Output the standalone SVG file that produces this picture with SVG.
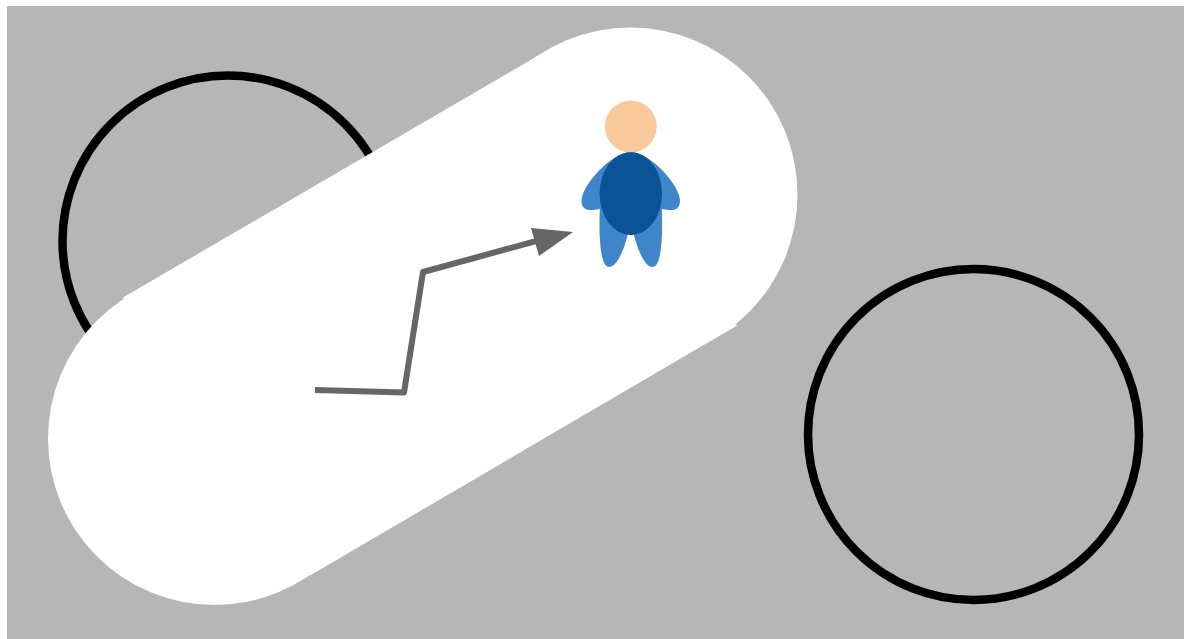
<svg xmlns="http://www.w3.org/2000/svg" width="1184" height="639" viewBox="0 0 1184 639">
<style>
.ring{fill:none;stroke:#000;stroke-width:8.500}
.path{fill:none;stroke:#666;stroke-width:6;stroke-linejoin:round}
.limb{fill:#3f85c9}
.band{fill:#fff}
</style>
<rect width="1184" height="639" fill="#fff"/>
<rect x="7" y="6" width="1177" height="633" fill="#b6b6b6"/>
<g id="circle-left"><circle class="ring" cx="228" cy="241" r="165.500"/></g>
<g id="circle-right"><circle class="ring" cx="973.5" cy="434.500" r="165.500"/></g>
<g id="band">
<circle class="band" cx="214.500" cy="438.500" r="166.500"/>
<circle class="band" cx="630.500" cy="194.500" r="167"/>
<polygon class="band" points="123,297.500 540,54.500 737,325.500 310,575.500"/>
</g>
<g id="connectors">
<path class="path" d="M315 390L404 392.500L423 272L540 240"/>
<polygon points="573,232 531,228 539,256" fill="#666"/>
</g>
<g id="person">
<circle cx="630.800" cy="126.500" r="26" fill="#f9cb9c"/>
<path class="limb" d="M600 205C598.500 235 600 267 609 267C618 267 626 245 630 225Z"/>
<path class="limb" d="M661.600 205C663.100 235 661.600 267 652.600 267C643.600 267 635.600 245 631.600 225Z"/>
<path class="limb" d="M630.800 152C612 152 581.500 185 581.500 201C581.500 208 586 210 590 210C596 210 606 208 612 204Z"/>
<path class="limb" d="M630.800 152C649.600 152 680 185 680 201C680 208 675.500 210 671.500 210C665.600 210 655.600 208 649.600 204Z"/>
<ellipse cx="630.800" cy="193.700" rx="31.200" ry="41.500" fill="#0b5394"/>
</g>
</svg>
